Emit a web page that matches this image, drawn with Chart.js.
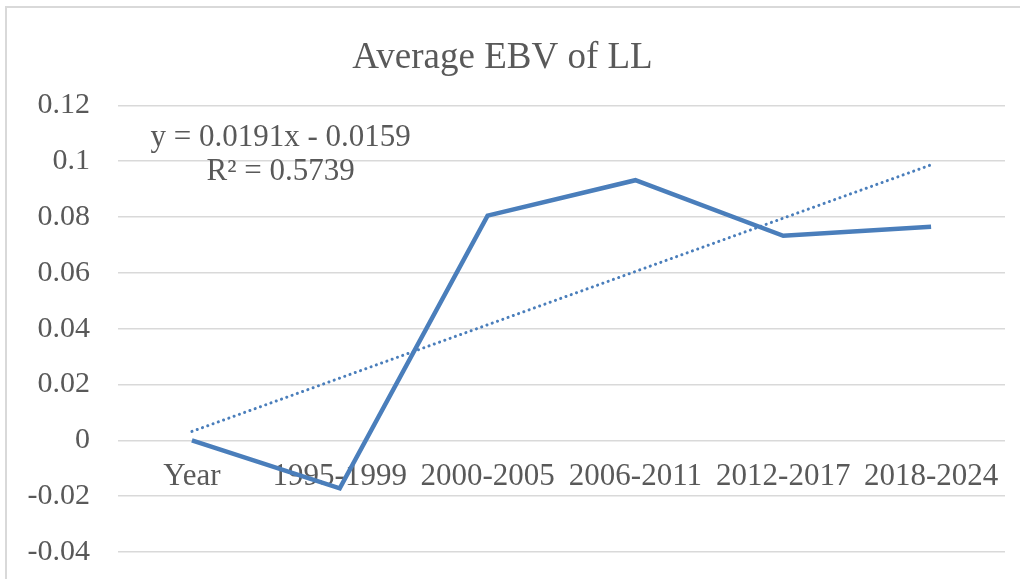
<!DOCTYPE html>
<html>
<head>
<meta charset="utf-8">
<script src="https://cdn.jsdelivr.net/npm/chart.js@4"></script>
<style>
  html, body { margin: 0; padding: 0; background: #fff; }
  #wrap { position: relative; width: 1020px; height: 579px; }
  #frame { position: absolute; left: 5px; top: 6px; right: 0; bottom: 0; border-left: 2px solid #d9d9d9; border-top: 2px solid #d9d9d9; }
  canvas { position: absolute; left: 0; top: 0; }
</style>
</head>
<body>
<div id="wrap">
  <div id="frame"></div>
  <canvas id="chart" width="1020" height="579"></canvas>
</div>
<script>
// values
const categories = ['Year', '1995-1999', '2000-2005', '2006-2011', '2012-2017', '2018-2024'];
const ebvValues = [0, -0.0172, 0.0805, 0.0932, 0.0733, 0.0765];
const trendValues = [0.0032, 0.0223, 0.0414, 0.0605, 0.0796, 0.0987];
const yTicks = [-0.04, -0.02, 0, 0.02, 0.04, 0.06, 0.08, 0.1, 0.12];
const trendText = ['y = 0.0191x - 0.0159', 'R\u00B2 = 0.5739'];

const fontFamily = '"Liberation Serif", "Times New Roman", serif';
const textColor = '#595959';
const lineColor = '#4a7ebb';

// draws the trendline equation inside the plot
const trendLabel = {
    id: 'trendLabel',
    afterDatasetsDraw(chart) {
        const ctx = chart.ctx;
        const x = chart.scales.x.getPixelForValue(0.6);
        const y = chart.scales.y;
        ctx.save();
        ctx.font = '31px ' + fontFamily;
        ctx.fillStyle = textColor;
        ctx.textAlign = 'center';
        ctx.textBaseline = 'middle';
        ctx.fillText(trendText[0], x, y.getPixelForValue(0.1085));
        ctx.fillText(trendText[1], x, y.getPixelForValue(0.0962));
        ctx.restore();
    }
};

let ctx = document.getElementById('chart').getContext('2d');
new Chart(ctx, {
    type: 'line',
    data: {
        labels: categories,
        datasets: [{
            label: 'Average EBV of LL',
            data: ebvValues,
            borderColor: lineColor,
            borderWidth: 4.5,
            pointRadius: 0,
            tension: 0,
            order: 1
        }, {
            label: 'Linear trend',
            data: trendValues,
            borderColor: lineColor,
            borderWidth: 3,
            borderDash: [0.1, 5.5],
            borderCapStyle: 'round',
            pointRadius: 0,
            order: 2
        }]
    },
    options: {
        responsive: false,
        animation: false,
        layout: { padding: { left: 0, right: 15, top: 0, bottom: 27 } },
        plugins: {
            legend: { display: false },
            tooltip: { enabled: false },
            title: {
                display: true,
                text: 'Average EBV of LL',
                color: textColor,
                font: { family: fontFamily, size: 37, weight: 'normal', lineHeight: 1.2 },
                padding: { top: 36, bottom: 25 }
            }
        },
        scales: {
            x: {
                position: { y: 0 },
                offset: true,
                afterFit(scale) {
                    scale.height = 0;
                    scale.paddingTop = 0;
                    scale.paddingBottom = 0;
                },
                grid: { display: false, drawTicks: false, offset: true },
                border: { display: false },
                ticks: {
                    color: textColor,
                    font: { family: fontFamily, size: 31 },
                    padding: 18,
                    maxRotation: 0,
                    autoSkip: false
                }
            },
            y: {
                min: -0.04,
                max: 0.12,
                afterBuildTicks(scale) {
                    scale.ticks = yTicks.map(v => ({ value: v }));
                },
                afterFit(scale) {
                    scale.width = 118;
                    scale.paddingTop = 0;
                    scale.paddingBottom = 0;
                },
                grid: { color: '#d9d9d9', lineWidth: 1.5, drawTicks: false },
                border: { display: false },
                ticks: {
                    color: textColor,
                    font: { family: fontFamily, size: 30 },
                    padding: 28,
                    callback: v => String(Math.round(v * 100) / 100)
                }
            }
        }
    },
    plugins: [trendLabel]
});
</script>
</body>
</html>
